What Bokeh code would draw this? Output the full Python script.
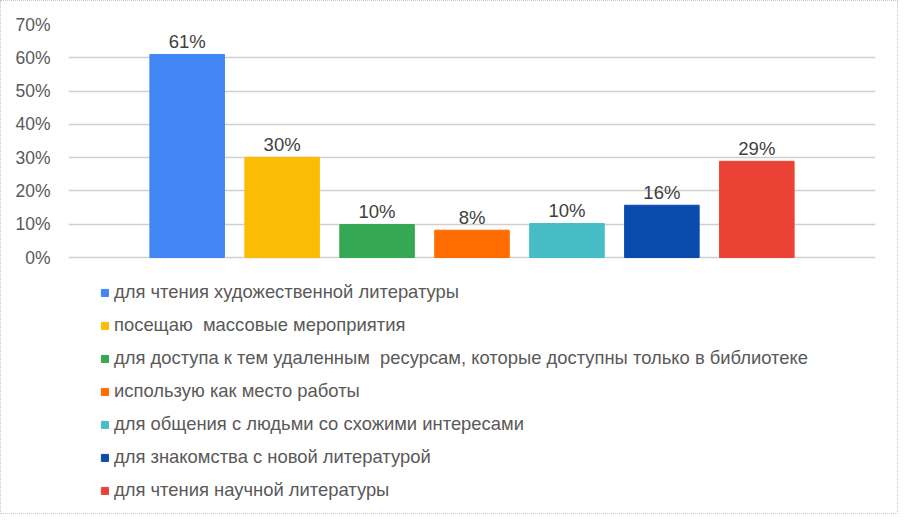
from bokeh.plotting import figure
from bokeh.models import ColumnDataSource, NumeralTickFormatter, Legend, LegendItem, FixedTicker, Range1d
from bokeh.core.properties import value
from bokeh.embed import file_html
from bokeh.resources import INLINE

categories = [
    "для чтения художественной литературы",
    "посещаю  массовые мероприятия",
    "для доступа к тем удаленным  ресурсам, которые доступны только в библиотеке",
    "использую как место работы",
    "для общения с людьми со схожими интересами",
    "для знакомства с новой литературой",
    "для чтения научной литературы",
]
values = [0.61, 0.301, 0.099, 0.082, 0.102, 0.157, 0.289]
labels = ["61%", "30%", "10%", "8%", "10%", "16%", "29%"]
colors = ["#4285F4", "#FBBC04", "#34A853", "#FF6D01", "#46BDC6", "#0B4BAD", "#EA4335"]
y_ticks = [0, 0.1, 0.2, 0.3, 0.4, 0.5, 0.6, 0.7]

FONT = "Liberation Sans"

# layout (pixels): plot top 23, zero line at 256, frame bottom at 510
TOP, ZERO, BOTTOM = 23, 256, 510
y_max = 0.7
y_min = -y_max * (BOTTOM - ZERO) / (ZERO - TOP)

src = ColumnDataSource(dict(
    x=list(range(len(categories))),
    top=values,
    label=labels,
    color=colors,
    cat=categories,
))

p = figure(width=898, height=514, output_backend="svg", toolbar_location=None,
           x_range=(-1.25, 7.25), y_range=Range1d(y_min, y_max), x_axis_location=None,
           min_border_left=67, min_border_right=24, min_border_top=TOP,
           min_border_bottom=514 - BOTTOM)
p.styles = {"border": "1px dotted #c8c8c8", "box-sizing": "border-box"}

r = p.vbar(x="x", top="top", width=0.785, color="color", source=src)
p.text(x="x", y="top", text="label", source=src, text_align="center",
       text_baseline="alphabetic", y_offset=-13, text_font=value(FONT),
       text_font_size="18.5px", text_color="#404040")

p.xgrid.visible = False
p.ygrid.grid_line_color = "#cfcfcf"
p.ygrid.grid_line_width = 1.5
p.ygrid.ticker = FixedTicker(ticks=y_ticks)
p.yaxis.ticker = FixedTicker(ticks=y_ticks)
p.yaxis.formatter = NumeralTickFormatter(format="0%")
p.yaxis.axis_line_color = None
p.yaxis.major_tick_line_color = None
p.yaxis.minor_tick_line_color = None
p.yaxis.major_label_text_font = FONT
p.yaxis.major_label_text_font_size = "17.5px"
p.yaxis.major_label_text_color = "#595959"
p.yaxis.major_label_standoff = 12
p.outline_line_color = None

items = [LegendItem(label=c, renderers=[r], index=i) for i, c in enumerate(categories)]
legend = Legend(items=items, location=(32, 10), padding=0, margin=0,
                glyph_width=9, glyph_height=9, label_standoff=5,
                label_height=20, spacing=11, border_line_alpha=0,
                background_fill_alpha=0,
                label_text_font=FONT, label_text_font_size="18.4px",
                label_text_color="#595959")
p.add_layout(legend, "center")

open("out.html", "w").write(file_html(p, INLINE))
